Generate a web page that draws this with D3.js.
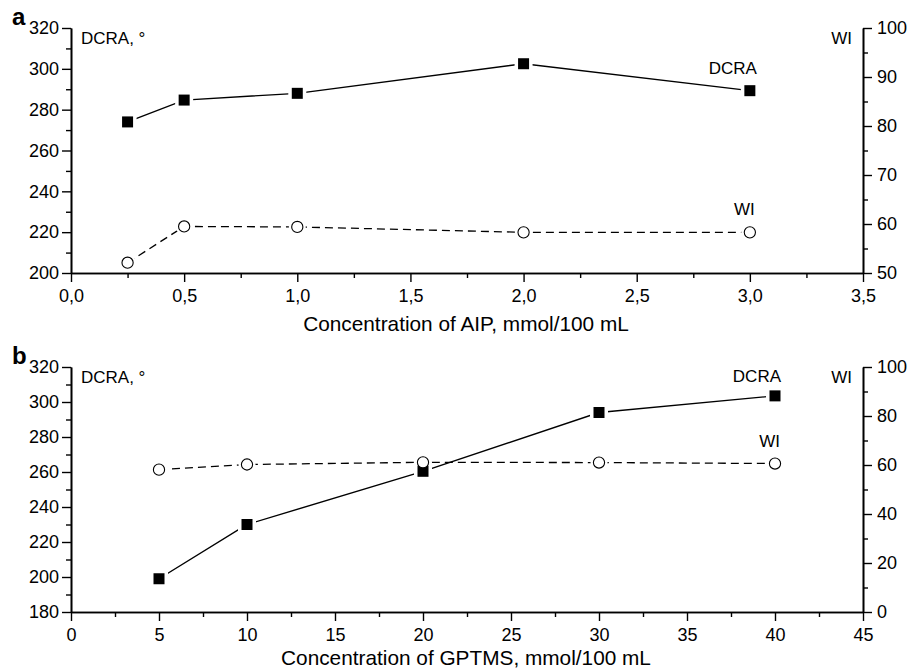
<!DOCTYPE html>
<html>
<head>
<meta charset="utf-8">
<script src="https://cdn.jsdelivr.net/npm/d3@7"></script>
<style>
  html, body { margin: 0; padding: 0; background: #fff; }
  svg { display: block; }
  text { font-family: "Liberation Sans", Arial, Helvetica, sans-serif; fill: #000; }
</style>
</head>
<body>
<svg id="chart" width="917" height="670"></svg>
<script>
// ---------- data ----------
const aipConc   = [0.25, 0.5, 1.0, 2.0, 3.0];
const aipDCRA   = [274, 284.7, 288, 302.5, 289.3];
const aipWI     = [52.1, 59.5, 59.4, 58.3, 58.3];

const gptmsConc = [5, 10, 20, 30, 40];
const gptmsDCRA = [199, 230, 260.4, 294, 303.5];
const gptmsWI   = [58.1, 60.2, 61.1, 61.0, 60.6];

// tick values / labels
const aipXMajor   = [0, 0.5, 1.0, 1.5, 2.0, 2.5, 3.0, 3.5];
const aipXLabels  = ["0,0", "0,5", "1,0", "1,5", "2,0", "2,5", "3,0", "3,5"];
const aipXMinor   = [0.25, 0.75, 1.25, 1.75, 2.25, 2.75, 3.25];
const aipYLMajor  = [200, 220, 240, 260, 280, 300, 320];
const aipYLMinor  = [210, 230, 250, 270, 290, 310];
const aipYRMajor  = [50, 60, 70, 80, 90, 100];
const aipYRMinor  = [55, 65, 75, 85, 95];

const gpXMajor    = [0, 5, 10, 15, 20, 25, 30, 35, 40, 45];
const gpXLabels   = ["0", "5", "10", "15", "20", "25", "30", "35", "40", "45"];
const gpXMinor    = [2.5, 7.5, 12.5, 17.5, 22.5, 27.5, 32.5, 37.5, 42.5];
const gpYLMajor   = [180, 200, 220, 240, 260, 280, 300, 320];
const gpYLMinor   = [190, 210, 230, 250, 270, 290, 310];
const gpYRMajor   = [0, 20, 40, 60, 80, 100];
const gpYRMinor   = [10, 30, 50, 70, 90];

const svg = d3.select("#chart");

function panel(cfg) {
  const g = svg.append("g");
  const x = d3.scaleLinear().domain(cfg.xDomain).range([71, 863]);
  const yL = d3.scaleLinear().domain(cfg.yLDomain).range([cfg.bottom, cfg.top]);
  const yR = d3.scaleLinear().domain(cfg.yRDomain).range([cfg.bottom, cfg.top]);

  const styleAxis = sel => {
    sel.select(".domain").attr("stroke", "#000").attr("stroke-width", 1.6);
    sel.selectAll(".tick line").attr("stroke", "#000").attr("stroke-width", 1.4);
    sel.selectAll("text").style("font-size", "18px")
      .style("font-family", '"Liberation Sans", Arial, sans-serif');
  };

  // x axis
  const labelOf = (vals, labels) => d => labels[vals.indexOf(d)];
  g.append("g").attr("transform", `translate(0,${cfg.bottom})`)
    .call(d3.axisBottom(x).tickValues(cfg.xMinor).tickSize(5).tickFormat("").tickSizeOuter(0))
    .call(styleAxis);
  g.append("g").attr("transform", `translate(0,${cfg.bottom})`)
    .call(d3.axisBottom(x).tickValues(cfg.xMajor).tickSize(9).tickPadding(7)
      .tickFormat(labelOf(cfg.xMajor, cfg.xLabels)).tickSizeOuter(0))
    .call(styleAxis);

  // left axis
  g.append("g").attr("transform", `translate(71,0)`)
    .call(d3.axisLeft(yL).tickValues(cfg.yLMinor).tickSize(5).tickFormat("").tickSizeOuter(0))
    .call(styleAxis);
  g.append("g").attr("transform", `translate(71,0)`)
    .call(d3.axisLeft(yL).tickValues(cfg.yLMajor).tickSize(9).tickPadding(3).tickSizeOuter(0))
    .call(styleAxis);

  // right axis
  g.append("g").attr("transform", `translate(863,0)`)
    .call(d3.axisRight(yR).tickValues(cfg.yRMinor).tickSize(5).tickFormat("").tickSizeOuter(0))
    .call(styleAxis);
  g.append("g").attr("transform", `translate(863,0)`)
    .call(d3.axisRight(yR).tickValues(cfg.yRMajor).tickSize(9).tickPadding(5).tickSizeOuter(0))
    .call(styleAxis);

  // axis labels
  g.append("text").attr("x", 81).attr("y", cfg.top + 15.5)
    .style("font-size", "17px").text("DCRA, °");
  g.append("text").attr("x", 852).attr("y", cfg.top + 16).attr("text-anchor", "end")
    .style("font-size", "17px").text("WI");
  g.append("text").attr("x", 466).attr("y", cfg.bottom + cfg.titleDy).attr("text-anchor", "middle")
    .style("font-size", "20.8px").text(cfg.title);
  g.append("text").attr("x", 12).attr("y", cfg.top - 3)
    .style("font-size", "24px").style("font-weight", "bold").text(cfg.letter);

  const dcraPts = cfg.conc.map((c, i) => [x(c), yL(cfg.dcra[i])]);
  const wiPts = cfg.conc.map((c, i) => [x(c), yR(cfg.wi[i])]);
  const line = d3.line();

  // lines
  g.append("path").attr("d", line(dcraPts)).attr("fill", "none")
    .attr("stroke", "#000").attr("stroke-width", 1.4);
  g.append("path").attr("d", line(wiPts)).attr("fill", "none")
    .attr("stroke", "#000").attr("stroke-width", 1.3).attr("stroke-dasharray", "8,5");

  // marker halos (gap between line and marker)
  g.selectAll(".sqh").data(dcraPts).enter().append("rect")
    .attr("x", d => d[0] - 9).attr("y", d => d[1] - 9).attr("width", 18).attr("height", 18)
    .attr("fill", "#fff");
  g.selectAll(".cih").data(wiPts).enter().append("circle")
    .attr("cx", d => d[0]).attr("cy", d => d[1]).attr("r", 8.5).attr("fill", "#fff");

  // markers
  g.selectAll(".sq").data(dcraPts).enter().append("rect")
    .attr("x", d => d[0] - 5.5).attr("y", d => d[1] - 5.5).attr("width", 11).attr("height", 11)
    .attr("fill", "#000");
  g.selectAll(".ci").data(wiPts).enter().append("circle")
    .attr("cx", d => d[0]).attr("cy", d => d[1]).attr("r", 5.6)
    .attr("fill", "#fff").attr("stroke", "#000").attr("stroke-width", 1.1);

  // series labels
  const lastD = dcraPts[dcraPts.length - 1];
  const lastW = wiPts[wiPts.length - 1];
  g.append("text").attr("x", lastD[0] + cfg.dLab[0]).attr("y", lastD[1] + cfg.dLab[1])
    .attr("text-anchor", "end").style("font-size", "17px").text("DCRA");
  g.append("text").attr("x", lastW[0] + 5).attr("y", lastW[1] - 17)
    .attr("text-anchor", "end").style("font-size", "17px").text("WI");
}

panel({
  letter: "a", top: 28, bottom: 273,
  xDomain: [0, 3.5], yLDomain: [200, 320], yRDomain: [50, 100],
  xMajor: aipXMajor, xLabels: aipXLabels, xMinor: aipXMinor,
  yLMajor: aipYLMajor, yLMinor: aipYLMinor, yRMajor: aipYRMajor, yRMinor: aipYRMinor,
  conc: aipConc, dcra: aipDCRA, wi: aipWI,
  title: "Concentration of AIP, mmol/100 mL", titleDy: 58,
  dLab: [7, -17]
});

panel({
  letter: "b", top: 367, bottom: 612,
  xDomain: [0, 45], yLDomain: [180, 320], yRDomain: [0, 100],
  xMajor: gpXMajor, xLabels: gpXLabels, xMinor: gpXMinor,
  yLMajor: gpYLMajor, yLMinor: gpYLMinor, yRMajor: gpYRMajor, yRMinor: gpYRMinor,
  conc: gptmsConc, dcra: gptmsDCRA, wi: gptmsWI,
  title: "Concentration of GPTMS, mmol/100 mL", titleDy: 53,
  dLab: [6, -14]
});
</script>
</body>
</html>
